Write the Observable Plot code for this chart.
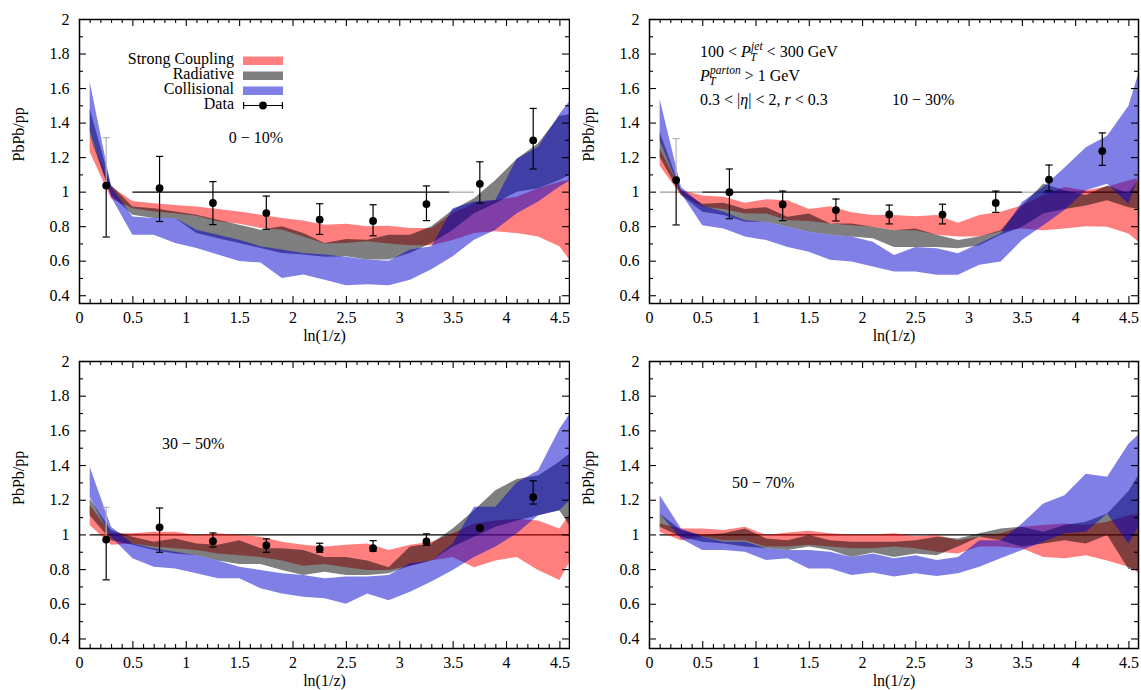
<!DOCTYPE html>
<html>
<head>
<meta charset="utf-8">
<script src="https://cdn.jsdelivr.net/npm/d3@7"></script>
<script src="https://cdn.jsdelivr.net/npm/@observablehq/plot@0.6"></script>
<style>
  html, body { margin: 0; padding: 0; background: #fff; }
  #root { position: relative; width: 1141px; height: 690px; overflow: hidden; background: #fff; font-family: "Liberation Serif", serif; }
  .panel { position: absolute; overflow: hidden; }
  .panel svg { display: block; }
  .ann { white-space: pre; }
</style>
</head>
<body>
<div id="root"></div>
<script>
const FONT = "Liberation Serif, serif";

// ---- axis ticks ----
const xMajorTicks = [0, 0.5, 1, 1.5, 2, 2.5, 3, 3.5, 4, 4.5];
const xMinorTicks = [0.1,0.2,0.3,0.4,0.6,0.7,0.8,0.9,1.1,1.2,1.3,1.4,1.6,1.7,1.8,1.9,2.1,2.2,2.3,2.4,2.6,2.7,2.8,2.9,3.1,3.2,3.3,3.4,3.6,3.7,3.8,3.9,4.1,4.2,4.3,4.4];
const yMajorTicks = [0.4, 0.6, 0.8, 1, 1.2, 1.4, 1.6, 1.8, 2];
const yMinorTicks = [0.5, 0.7, 0.9, 1.1, 1.3, 1.5, 1.7, 1.9];
const xLabel = "ln(1/z)";
const yLabel = "PbPb/pp";

// ---- models ----
const modelNames = ["Strong Coupling", "Radiative", "Collisional"];
const modelColors = ["#ff0000", "#000000", "#0000cd"];
const dataName = "Data";

// band x grid
const bandX = [0.1,0.3,0.5,0.7,0.9,1.1,1.3,1.5,1.7,1.9,2.1,2.3,2.5,2.7,2.9,3.1,3.3,3.5,3.7,3.9,4.1,4.3,4.5,4.6];

// ---- panel 1: 0-10% ----
const p1ScHi  = [1.33,1.03,0.946,0.933,0.923,0.914,0.90,0.885,0.866,0.847,0.833,0.808,0.814,0.80,0.803,0.79,0.79,0.875,0.933,0.952,0.97,1.02,1.057,1.07];
const p1ScLo  = [1.23,0.96,0.904,0.885,0.875,0.86,0.828,0.814,0.79,0.78,0.74,0.70,0.703,0.713,0.70,0.69,0.69,0.72,0.76,0.77,0.76,0.74,0.684,0.60];
const p1RadHi = [1.48,1.038,0.914,0.904,0.885,0.866,0.837,0.808,0.78,0.80,0.76,0.703,0.726,0.722,0.75,0.75,0.80,0.895,0.962,1.067,1.19,1.28,1.44,1.45];
const p1RadLo = [1.326,0.98,0.866,0.847,0.847,0.76,0.73,0.703,0.674,0.645,0.636,0.623,0.626,0.607,0.607,0.645,0.703,0.78,0.875,0.933,1.0,1.02,1.067,1.10];
const p1ColHi = [1.636,1.03,0.856,0.847,0.847,0.78,0.75,0.722,0.684,0.665,0.645,0.636,0.623,0.607,0.60,0.665,0.684,0.904,0.943,0.952,1.19,1.26,1.45,1.53];
const p1ColLo = [1.354,0.97,0.75,0.75,0.703,0.674,0.636,0.598,0.59,0.50,0.52,0.49,0.458,0.464,0.458,0.49,0.55,0.626,0.722,0.78,0.875,0.943,1.03,1.067];

// ---- panel 2: 10-30% ----
const p2ScHi  = [1.248,1.01,0.977,0.97,0.935,0.956,0.95,0.90,0.915,0.88,0.864,0.864,0.858,0.864,0.82,0.864,0.883,0.92,0.98,1.027,1.008,1.03,1.065,1.08];
const p2ScLo  = [1.15,0.98,0.912,0.90,0.873,0.873,0.835,0.83,0.816,0.806,0.797,0.777,0.777,0.75,0.74,0.74,0.77,0.787,0.777,0.787,0.80,0.797,0.758,0.706];
const p2RadHi = [1.344,1.01,0.93,0.935,0.90,0.91,0.854,0.873,0.816,0.816,0.797,0.777,0.787,0.75,0.72,0.74,0.777,0.92,1.046,1.008,0.98,1.036,0.99,1.08];
const p2RadLo = [1.2,0.98,0.883,0.864,0.825,0.825,0.797,0.768,0.75,0.74,0.73,0.68,0.68,0.68,0.672,0.69,0.75,0.797,0.873,0.90,0.92,0.95,0.91,0.90];
const p2ColHi = [1.535,1.027,0.92,0.883,0.835,0.825,0.797,0.768,0.75,0.74,0.71,0.633,0.68,0.672,0.643,0.70,0.758,0.94,1.027,1.14,1.257,1.324,1.497,1.70];
const p2ColLo = [1.296,0.99,0.806,0.787,0.74,0.72,0.68,0.652,0.605,0.595,0.566,0.537,0.537,0.518,0.518,0.576,0.595,0.72,0.806,0.893,1.008,1.046,0.93,1.1];

// ---- panel 3: 30-50% ----
const p3ScHi  = [1.168,1.006,1.006,1.015,1.015,0.996,1.006,0.996,0.987,0.958,0.94,0.93,0.94,0.948,0.91,0.94,0.958,1.006,1.063,1.08,1.09,1.08,1.034,1.12];
const p3ScLo  = [1.054,0.94,0.948,0.93,0.92,0.91,0.89,0.88,0.87,0.85,0.82,0.83,0.81,0.795,0.795,0.82,0.85,0.87,0.81,0.85,0.87,0.795,0.737,0.85];
const p3RadHi = [1.207,1.025,0.987,0.958,0.977,0.948,0.94,0.967,0.92,0.92,0.91,0.87,0.87,0.85,0.81,0.93,0.948,1.034,1.14,1.255,1.32,1.34,1.42,1.47];
const p3RadLo = [1.11,0.967,0.94,0.91,0.89,0.88,0.85,0.83,0.83,0.795,0.766,0.785,0.766,0.766,0.776,0.82,0.85,0.93,0.987,1.044,1.08,1.11,1.14,1.044];
const p3ColHi = [1.39,1.044,0.948,0.92,0.90,0.88,0.85,0.814,0.795,0.776,0.766,0.747,0.757,0.757,0.766,0.833,0.85,0.948,1.16,1.16,1.30,1.37,1.61,1.70];
const p3ColLo = [1.216,0.987,0.862,0.814,0.804,0.776,0.747,0.747,0.69,0.66,0.64,0.632,0.60,0.66,0.62,0.67,0.728,0.795,0.87,0.93,1.006,1.11,1.14,1.2];

// ---- panel 4: 50-70% ----
const p4ScHi  = [1.063,1.034,1.034,1.025,1.044,0.996,1.011,1.021,1.006,1.0,1.0,1.006,0.99,0.996,0.967,0.987,1.006,1.044,1.054,1.063,1.054,1.073,1.11,1.12];
const p4ScLo  = [1.015,0.967,0.987,0.967,0.967,0.93,0.93,0.94,0.93,0.92,0.92,0.93,0.92,0.90,0.89,0.93,0.93,0.92,0.87,0.862,0.88,0.85,0.814,0.776];
const p4RadHi = [1.12,1.025,0.996,1.006,1.034,0.977,0.967,0.996,0.967,0.958,0.958,0.958,0.967,0.987,0.977,1.006,1.034,1.044,1.015,1.054,1.073,1.12,1.25,1.35];
const p4RadLo = [1.044,0.987,0.958,0.948,0.93,0.92,0.91,0.93,0.91,0.87,0.895,0.87,0.89,0.88,0.93,0.987,0.967,0.93,0.948,0.967,0.948,0.996,0.80,0.80];
const p4ColHi = [1.226,1.034,0.987,0.958,0.958,0.92,0.91,0.91,0.90,0.87,0.89,0.862,0.88,0.852,0.87,0.967,0.967,1.063,1.178,1.226,1.35,1.333,1.523,1.58];
const p4ColLo = [1.12,0.977,0.91,0.91,0.90,0.852,0.862,0.804,0.804,0.766,0.78,0.757,0.776,0.76,0.776,0.814,0.862,0.91,0.958,1.006,1.015,1.12,0.948,1.05];

// ---- data points ----
const dataX = [0.25, 0.75, 1.25, 1.75, 2.25, 2.75, 3.25, 3.75, 4.25];
const p1DataY  = [1.038,1.023,0.937,0.879,0.841,0.833,0.931,1.048,1.30];
const p1DataLo = [0.74,0.83,0.812,0.785,0.755,0.747,0.835,0.937,1.134];
const p1DataHi = [1.316,1.207,1.061,0.977,0.933,0.927,1.036,1.176,1.485];
const p2DataY  = [1.07,1.0,0.929,0.896,0.871,0.87,0.937,1.073,1.238];
const p2DataLo = [0.81,0.846,0.835,0.833,0.816,0.816,0.883,1.008,1.155];
const p2DataHi = [1.31,1.134,1.006,0.96,0.925,0.93,1.006,1.157,1.343];
const p3DataY  = [0.973,1.044,0.964,0.94,0.92,0.923,0.962,1.04,1.218];
const p3DataLo = [0.741,0.90,0.93,0.90,0.90,0.906,0.94,1.03,1.178];
const p3DataHi = [1.159,1.155,1.011,0.977,0.952,0.967,1.006,1.05,1.312];

// ---- reference lines at PbPb/pp = 1 ----
const p1RefLines = [{x1: 0.5, x2: 3.47, stroke: "#000"}, {x1: 3.47, x2: 3.7, stroke: "#9a9a9a"}];
const p2RefLines = [{x1: 0.1, x2: 0.5, stroke: "#9a9a9a"}, {x1: 0.5, x2: 3.5, stroke: "#000"}, {x1: 3.5, x2: 3.7, stroke: "#9a9a9a"}, {x1: 3.7, x2: 4.59, stroke: "#000"}];
const p3RefLines = [{x1: 0.1, x2: 4.59, stroke: "#000"}];
const p4RefLines = [{x1: 0.1, x2: 4.59, stroke: "#000"}];

const centralityLabels = ["0 − 10%", "10 − 30%", "30 − 50%", "50 − 70%"];

const panels = [
  {left: 0,   top: 0,   width: 570, mt: 19, mr: 1, ymin: 0.355,
   bands: [[p1ScLo, p1ScHi], [p1RadLo, p1RadHi], [p1ColLo, p1ColHi]],
   data: [p1DataY, p1DataLo, p1DataHi], ref: p1RefLines},
  {left: 570, top: 0,   width: 571, mt: 19, mr: 3, ymin: 0.355,
   bands: [[p2ScLo, p2ScHi], [p2RadLo, p2RadHi], [p2ColLo, p2ColHi]],
   data: [p2DataY, p2DataLo, p2DataHi], ref: p2RefLines},
  {left: 0,   top: 345, width: 570, mt: 16, mr: 1, ymin: 0.345,
   bands: [[p3ScLo, p3ScHi], [p3RadLo, p3RadHi], [p3ColLo, p3ColHi]],
   data: [p3DataY, p3DataLo, p3DataHi], ref: p3RefLines},
  {left: 570, top: 345, width: 571, mt: 16, mr: 3, ymin: 0.345,
   bands: [[p4ScLo, p4ScHi], [p4RadLo, p4RadHi], [p4ColLo, p4ColHi]],
   data: null, ref: p4RefLines}
];

const fmt = d => String(+(+d).toFixed(1));
const capSymbol = {draw(ctx) { ctx.moveTo(-3.6, 0); ctx.lineTo(3.6, 0); }};

const H = 345, MB = 42, ML = 79;
const root = document.getElementById("root");

function buildPanel(p) {
  const plotH = H - p.mt - MB;
  const plotW = p.width - ML - p.mr;
  const marks = [];
  for (const r of p.ref) {
    marks.push(Plot.ruleY([r], {y: 1, x1: "x1", x2: "x2", stroke: r.stroke, strokeWidth: 1.1}));
  }
  p.bands.forEach(([lo, hi], m) => {
    const rows = bandX.map((x, i) => ({x, lo: lo[i], hi: hi[i]}));
    marks.push(Plot.areaY(rows, {x: "x", y1: "lo", y2: "hi", fill: modelColors[m], fillOpacity: 0.5, clip: true}));
  });
  if (p.data) {
    const [Y, LO, HI] = p.data;
    const pts = dataX.map((x, i) => ({x, y: Y[i], lo: LO[i], hi: HI[i], first: i === 0}));
    const rest = pts.filter(d => !d.first), first = pts.filter(d => d.first);
    marks.push(
      Plot.ruleX(pts, {x: "x", y1: "lo", y2: "y", stroke: "#000", strokeWidth: 1.2}),
      Plot.ruleX(rest, {x: "x", y1: "y", y2: "hi", stroke: "#000", strokeWidth: 1.2}),
      Plot.ruleX(first, {x: "x", y1: "y", y2: "hi", stroke: "#b5b5b5", strokeWidth: 1.2}),
      Plot.dot(pts, {x: "x", y: "lo", symbol: capSymbol, r: 4, stroke: "#000", strokeWidth: 1.2, fill: "none"}),
      Plot.dot(rest, {x: "x", y: "hi", symbol: capSymbol, r: 4, stroke: "#000", strokeWidth: 1.2, fill: "none"}),
      Plot.dot(first, {x: "x", y: "hi", symbol: capSymbol, r: 4, stroke: "#b5b5b5", strokeWidth: 1.2, fill: "none"}),
      Plot.dot(pts, {x: "x", y: "y", r: 3.9, fill: "#000", stroke: "none"})
    );
  }
  marks.push(
    Plot.tickX(xMajorTicks, {x: d => d, insetTop: plotH - 7, stroke: "#000", strokeWidth: 1.1}),
    Plot.tickX(xMajorTicks, {x: d => d, insetBottom: plotH - 7, stroke: "#000", strokeWidth: 1.1}),
    Plot.tickX(xMinorTicks, {x: d => d, insetTop: plotH - 4, stroke: "#000", strokeWidth: 1.1}),
    Plot.tickX(xMinorTicks, {x: d => d, insetBottom: plotH - 4, stroke: "#000", strokeWidth: 1.1}),
    Plot.tickY(yMajorTicks, {y: d => d, insetRight: plotW - 7, stroke: "#000", strokeWidth: 1.1}),
    Plot.tickY(yMajorTicks, {y: d => d, insetLeft: plotW - 7, stroke: "#000", strokeWidth: 1.1}),
    Plot.tickY(yMinorTicks, {y: d => d, insetRight: plotW - 4, stroke: "#000", strokeWidth: 1.1}),
    Plot.tickY(yMinorTicks, {y: d => d, insetLeft: plotW - 4, stroke: "#000", strokeWidth: 1.1}),
    Plot.frame({stroke: "#000", strokeWidth: 1.5}),
    Plot.text([xLabel], {text: d => d, frameAnchor: "bottom", dy: 37, fontSize: 16, fill: "#000"}),
    Plot.text([yLabel], {text: d => d, frameAnchor: "left", dx: -61, rotate: -90, fontSize: 16, fill: "#000"})
  );

  const svg = Plot.plot({
    width: p.width, height: H,
    marginLeft: ML, marginRight: p.mr, marginTop: p.mt, marginBottom: MB,
    x: {domain: [0, 4.59], ticks: xMajorTicks, tickFormat: fmt, tickSize: 0, tickPadding: 8, label: null},
    y: {domain: [p.ymin, 2], ticks: yMajorTicks, tickFormat: fmt, tickSize: 0, tickPadding: 10, label: null},
    style: {fontFamily: FONT, fontSize: "16px", background: "#fff", color: "#000"},
    marks
  });
  const div = document.createElement("div");
  div.className = "panel";
  div.style.left = p.left + "px";
  div.style.top = p.top + "px";
  div.style.width = p.width + "px";
  div.style.height = H + "px";
  div.appendChild(svg);
  root.appendChild(div);
  return svg;
}

// rich text: one <text> with tspans; parts: {t, i} or {sub, sup}
function rich(g, x, y, parts) {
  const t = g.append("text").attr("class", "ann").attr("x", x).attr("y", y)
    .attr("font-size", 16).attr("text-anchor", "start");
  let shift = 0;
  for (const part of parts) {
    if (part.t !== undefined) {
      t.append("tspan").attr("dy", -shift).attr("font-style", part.i ? "italic" : null).text(part.t);
      shift = 0;
    } else {
      t.append("tspan").attr("font-size", 11.5).attr("font-style", "italic").attr("dx", -0.5).attr("dy", 4).text(part.sub);
      t.append("tspan").attr("font-size", 11.5).attr("font-style", "italic").attr("dx", -5.6).attr("dy", -11.5).text(part.sup);
      shift = -7.5;
    }
  }
}

const svgs = panels.map(buildPanel);

// ---- legend in panel 1 ----
{
  const g = d3.select(svgs[0]).append("g").attr("font-family", FONT).attr("fill", "#000");
  const baselines = [64, 79, 94, 109];
  modelNames.forEach((name, m) => {
    g.append("text").attr("x", 234).attr("y", baselines[m]).attr("text-anchor", "end")
      .attr("font-size", 16).text(name);
    g.append("rect").attr("x", 243).attr("y", baselines[m] - 7.5).attr("width", 40).attr("height", 8.5)
      .attr("fill", modelColors[m]).attr("fill-opacity", 0.5);
  });
  const by = baselines[3];
  g.append("text").attr("x", 234).attr("y", by).attr("text-anchor", "end").attr("font-size", 16).text(dataName);
  const ly = by - 3.5;
  g.append("line").attr("x1", 243).attr("x2", 283).attr("y1", ly).attr("y2", ly).attr("stroke", "#000").attr("stroke-width", 1.2);
  g.append("line").attr("x1", 243.6).attr("x2", 243.6).attr("y1", ly - 3.6).attr("y2", ly + 3.6).attr("stroke", "#000").attr("stroke-width", 1.2);
  g.append("line").attr("x1", 282.4).attr("x2", 282.4).attr("y1", ly - 3.6).attr("y2", ly + 3.6).attr("stroke", "#000").attr("stroke-width", 1.2);
  g.append("circle").attr("cx", 263).attr("cy", ly).attr("r", 3.9).attr("fill", "#000");
  g.append("text").attr("x", 283).attr("y", 143).attr("text-anchor", "end").attr("font-size", 16).text(centralityLabels[0]);
}

// ---- kinematic annotation in panel 2 ----
{
  const g = d3.select(svgs[1]).append("g").attr("font-family", FONT).attr("fill", "#000").attr("text-anchor", "start");
  rich(g, 130, 57, [{t: "100 < "}, {t: "P", i: true}, {sub: "T", sup: "jet"}, {t: " < 300 GeV"}]);
  rich(g, 130, 81, [{t: "P", i: true}, {sub: "T", sup: "parton"}, {t: " > 1 GeV"}]);
  rich(g, 130, 105, [{t: "0.3 < |"}, {t: "η", i: true}, {t: "| < 2, "}, {t: "r", i: true}, {t: " < 0.3"}]);
  g.append("text").attr("x", 322).attr("y", 105).attr("font-size", 16).attr("text-anchor", "start").text(centralityLabels[1]);
}
// ---- centrality labels in panels 3 and 4 ----
d3.select(svgs[2]).append("text").attr("font-family", FONT).attr("text-anchor", "start").attr("x", 162).attr("y", 104).attr("font-size", 16).text(centralityLabels[2]);
d3.select(svgs[3]).append("text").attr("font-family", FONT).attr("text-anchor", "start").attr("x", 162).attr("y", 143).attr("font-size", 16).text(centralityLabels[3]);
</script>
</body>
</html>
